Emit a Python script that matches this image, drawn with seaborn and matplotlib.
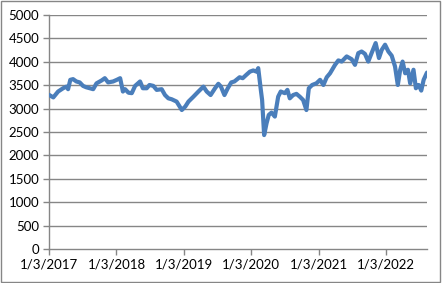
import matplotlib
matplotlib.use("Agg")
import matplotlib.pyplot as plt
import matplotlib.dates as mdates
from matplotlib.patches import Rectangle
import pandas as pd
import seaborn as sns

dates = [
    "2017-01-03", "2017-01-26", "2017-02-21", "2017-03-20", "2017-04-07", "2017-04-16",
    "2017-04-28", "2017-05-13", "2017-05-31", "2017-06-18", "2017-07-06", "2017-07-24",
    "2017-08-12", "2017-08-30", "2017-09-17", "2017-10-14", "2017-11-01", "2017-11-19",
    "2017-12-16", "2018-01-05", "2018-01-23", "2018-02-07", "2018-02-19", "2018-03-09",
    "2018-03-27", "2018-04-14", "2018-05-11", "2018-05-26", "2018-06-16", "2018-07-01",
    "2018-07-22", "2018-08-09", "2018-09-05", "2018-09-23", "2018-10-11", "2018-10-29",
    "2018-11-25", "2018-12-23", "2019-01-11", "2019-01-28", "2019-02-24", "2019-03-23",
    "2019-04-19", "2019-05-07", "2019-05-28", "2019-06-21", "2019-07-09", "2019-07-23",
    "2019-08-11", "2019-08-29", "2019-09-17", "2019-10-04", "2019-11-01", "2019-11-18",
    "2019-12-07", "2019-12-27", "2020-01-14", "2020-02-01", "2020-02-10", "2020-02-24",
    "2020-03-02", "2020-03-13", "2020-03-26", "2020-04-07", "2020-04-22", "2020-05-10",
    "2020-05-28", "2020-06-11", "2020-07-03", "2020-07-17", "2020-07-30", "2020-08-17",
    "2020-09-04", "2020-09-22", "2020-10-10", "2020-10-28", "2020-11-10", "2020-11-28",
    "2020-12-21", "2021-01-10", "2021-01-28", "2021-02-15", "2021-03-05", "2021-04-01",
    "2021-04-19", "2021-05-07", "2021-06-03", "2021-06-30", "2021-07-18", "2021-08-05",
    "2021-08-23", "2021-09-10", "2021-09-28", "2021-10-16", "2021-11-07", "2021-11-25",
    "2021-12-10", "2021-12-28", "2022-01-15", "2022-02-02", "2022-02-20", "2022-03-07",
    "2022-03-20", "2022-04-02", "2022-04-16", "2022-05-01", "2022-05-13", "2022-05-31",
    "2022-06-13", "2022-06-28", "2022-07-12", "2022-07-25", "2022-08-12",
]
values = [
    3293, 3240, 3365, 3435, 3470, 3415,
    3615, 3630, 3580, 3560, 3485, 3455,
    3435, 3415, 3540, 3600, 3650, 3560,
    3580, 3615, 3650, 3365, 3415, 3340,
    3330, 3485, 3580, 3435, 3435, 3505,
    3485, 3400, 3415, 3290, 3220, 3200,
    3150, 2970, 3045, 3150, 3255, 3365,
    3470, 3365, 3290, 3435, 3530, 3470,
    3290, 3435, 3560, 3580, 3670, 3650,
    3720, 3790, 3815, 3790, 3865, 3400,
    3185, 2435, 2685, 2865, 2915, 2830,
    3255, 3365, 3330, 3400, 3220, 3290,
    3315, 3255, 3185, 2970, 3435, 3505,
    3540, 3615, 3505, 3670, 3755, 3935,
    4030, 4005, 4115, 4055, 3935, 4185,
    4220, 4170, 4005, 4185, 4400, 4080,
    4255, 4365, 4220, 4130, 3900, 3505,
    3830, 4005, 3755, 3830, 3540, 3830,
    3435, 3505, 3385, 3615, 3770,
]
x_ticks = ["2017-01-03", "2018-01-03", "2019-01-03", "2020-01-03", "2021-01-03", "2022-01-03"]
x_tick_labels = ["1/3/2017", "1/3/2018", "1/3/2019", "1/3/2020", "1/3/2021", "1/3/2022"]
y_ticks = [0, 500, 1000, 1500, 2000, 2500, 3000, 3500, 4000, 4500, 5000]

df = pd.DataFrame({"date": pd.to_datetime(dates), "value": values})

sns.set_style("white")
plt.rcParams["font.family"] = ["Lato", "DejaVu Sans"]

fig = plt.figure(figsize=(4.42, 2.83), dpi=100)
ax = fig.add_axes([0.111, 0.120, 0.855, 0.827])

grid_c = "#868686"
for yv in y_ticks[1:]:
    ax.axhline(yv, color=grid_c, lw=1.0, zorder=1)

sns.lineplot(data=df, x="date", y="value", ax=ax, color="#4a7ebb", lw=3.0, zorder=3)

ax.set_ylim(0, 5000)
ax.set_xlim(df["date"].min(), df["date"].max())
ax.set_yticks(y_ticks)
ax.set_yticklabels([str(v) for v in y_ticks])
ax.set_xticks(pd.to_datetime(x_ticks))
ax.set_xticklabels(x_tick_labels)
ax.set_xlabel("")
ax.set_ylabel("")

for s in ["top", "right"]:
    ax.spines[s].set_visible(False)
for s in ["left", "bottom"]:
    ax.spines[s].set_color(grid_c)
    ax.spines[s].set_linewidth(1.0)

ax.tick_params(axis="both", which="both", direction="out", length=4, width=1,
               color=grid_c, labelsize=9.5, labelcolor="#000000", pad=3,
               left=True, bottom=True)

fig.patches.append(Rectangle((0.003, 0.004), 0.993, 0.992, transform=fig.transFigure,
                             fill=False, edgecolor="#868686", lw=1.0))

fig.savefig("out.png", dpi=100, facecolor="white")
